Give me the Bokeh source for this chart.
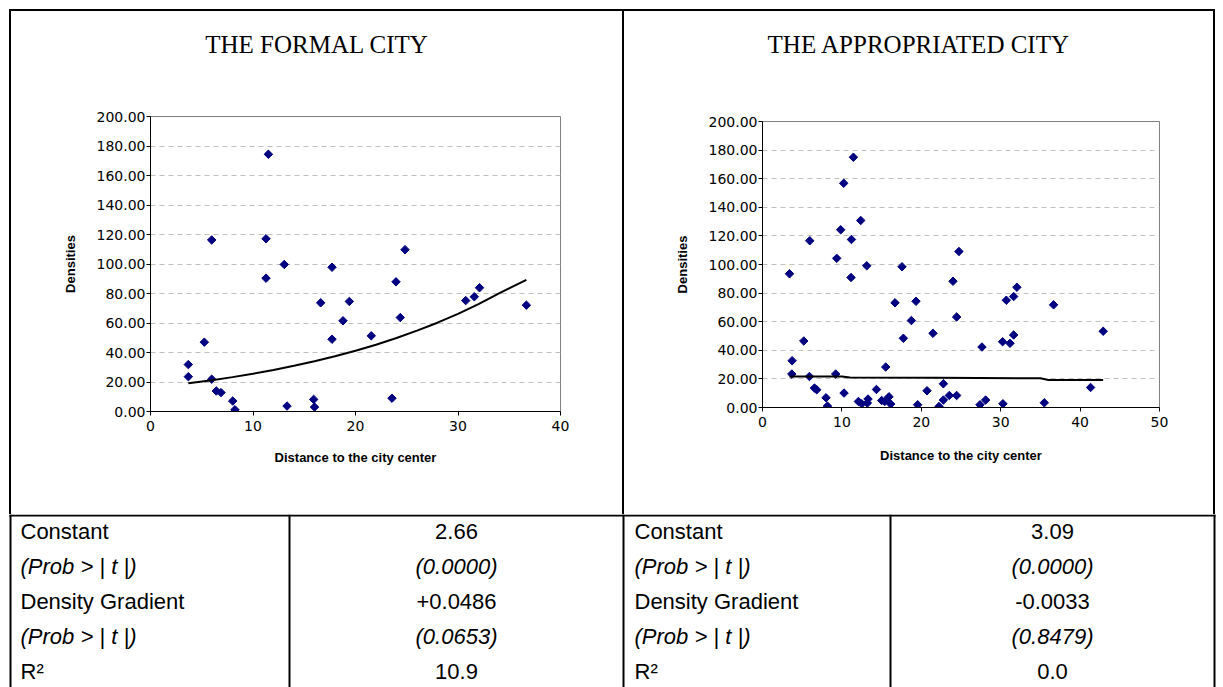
import math
from bokeh.plotting import figure
from bokeh.layouts import column, row
from bokeh.models import Div, Range1d, FixedTicker, NumeralTickFormatter, ColumnDataSource
from bokeh.core.properties import value
from bokeh.embed import file_html
from bokeh.resources import INLINE

# ---------------- data ----------------
formal_distance = [3.69, 3.69, 5.25, 5.97, 5.97, 6.42, 6.88, 8.02, 8.24, 11.27,
                   11.50, 11.27, 13.05, 13.32, 15.92, 16.00, 16.60, 17.71, 17.71, 18.78,
                   19.40, 21.54, 23.56, 23.95, 24.37, 24.83, 30.75, 31.59, 32.10, 36.67]
formal_density = [31.8, 23.6, 47.0, 116.3, 21.9, 13.9, 12.8, 7.1, 1.2, 117.1,
                  174.4, 90.4, 99.7, 3.7, 8.2, 3.0, 73.7, 97.8, 49.0, 61.5,
                  74.6, 51.3, 9.0, 87.9, 63.7, 109.7, 75.2, 77.8, 83.9, 72.1]
formal_trend_distance = [3.69, 6, 8, 10, 12, 14, 16, 18, 20, 22, 24, 26, 28, 30, 32, 34, 36.67]
formal_trend_density = [19.1, 21.2, 23.3, 25.6, 28.2, 31.0, 34.1, 37.5, 41.2, 45.3,
                        49.8, 54.8, 60.2, 66.2, 72.8, 80.1, 89.3]

appr_distance = [3.40, 3.73, 3.69, 5.20, 5.95, 5.91, 6.54, 6.83, 8.00, 8.18,
                 9.22, 9.35, 9.85, 10.23, 10.27, 11.15, 11.20, 11.45, 12.08, 12.37,
                 12.50, 13.13, 13.21, 13.29, 14.35, 15.01, 15.39, 15.52, 15.93, 16.15,
                 16.69, 17.57, 17.74, 18.75, 19.33, 19.54, 20.72, 21.47, 22.23, 22.78,
                 22.78, 23.53, 23.99, 24.45, 24.45, 24.74, 27.39, 27.64, 28.10, 30.24,
                 30.28, 30.71, 31.17, 31.63, 31.63, 32.04, 35.49, 36.66, 41.32, 42.91]
appr_density = [93.5, 32.7, 23.4, 46.5, 116.6, 21.7, 13.6, 12.4, 6.8, 1.0,
                23.4, 104.3, 124.3, 156.8, 10.1, 90.9, 117.5, 175.0, 4.2, 130.8,
                2.6, 99.1, 3.1, 5.9, 12.6, 4.9, 4.2, 28.3, 7.5, 2.4,
                73.2, 98.4, 48.4, 60.8, 74.3, 1.9, 11.7, 51.9, 0.7, 16.6,
                5.2, 8.4, 88.3, 63.3, 8.4, 109.1, 1.9, 42.3, 5.2, 46.0,
                2.6, 75.0, 44.9, 77.6, 50.7, 84.1, 3.3, 71.8, 14.0, 53.3]
appr_trend_distance = [3.4, 10.0, 11.0, 22.0, 35.0, 36.0, 42.9]
appr_trend_density = [21.7, 21.6, 20.9, 20.8, 20.4, 19.3, 19.2]

formal_x_ticks = [0, 10, 20, 30, 40]
appr_x_ticks = [0, 10, 20, 30, 40, 50]
y_ticks = [0, 20, 40, 60, 80, 100, 120, 140, 160, 180, 200]
grid_ticks = [20, 40, 60, 80, 100, 120, 140, 160, 180]

titles = ["THE FORMAL CITY", "THE APPROPRIATED CITY"]
x_label = "Distance to the city center"
y_label = "Densities"

row_labels = ["Constant", "(Prob > | t |)", "Density Gradient", "(Prob > | t |)", "R\u00b2"]
row_styles = ["normal", "italic", "normal", "italic", "normal"]
formal_values = ["2.66", "(0.0000)", "+0.0486", "(0.0653)", "10.9"]
appr_values = ["3.09", "(0.0000)", "-0.0033", "(0.8479)", "0.0"]

SANS = "Liberation Sans"
SERIF = "Liberation Serif"
TICK_FONT = "DejaVu Sans"
MARKER = "#000080"

TITLE_H = 70


def blank(w, h):
    return Div(width=w, height=h, margin=(0, 0, 0, 0))


def black(w, h):
    return Div(width=w, height=h, margin=(0, 0, 0, 0),
               styles={"background-color": "black"})


def title_fig(w, mb_left, mb_right, text):
    # same side borders as the chart below it, so the frames line up explicitly
    frame_w = w - mb_left - mb_right
    p = figure(width=w, height=TITLE_H, x_range=Range1d(0, frame_w),
               y_range=Range1d(TITLE_H, 0), output_backend="svg", toolbar_location=None,
               min_border_left=mb_left, min_border_right=mb_right,
               min_border_top=0, min_border_bottom=0,
               x_axis_location=None, y_axis_location=None)
    p.grid.visible = False
    p.outline_line_color = None
    p.text(x=[w / 2 - mb_left], y=[33], text=[text], text_font=value(SERIF),
           text_font_size="25px", text_align="center", text_baseline="middle",
           text_color="black")
    return p


def scatter_fig(w, h, xmax, xticks, xs, ys, txs, tys, mb, label_standoff):
    p = figure(width=w, height=h, x_range=Range1d(0, xmax), y_range=Range1d(0, 200),
               output_backend="svg", toolbar_location=None,
               min_border_left=mb[0], min_border_right=mb[1],
               min_border_top=mb[2], min_border_bottom=mb[3])
    p.background_fill_color = "white"
    p.border_fill_color = "white"
    p.outline_line_color = "#808080"
    p.outline_line_width = 1
    p.xgrid.visible = False
    p.ygrid.ticker = FixedTicker(ticks=grid_ticks)
    p.ygrid.grid_line_color = "#c0c0c0"
    p.ygrid.grid_line_dash = "5 4"
    p.xaxis.ticker = FixedTicker(ticks=xticks)
    p.yaxis.ticker = FixedTicker(ticks=y_ticks)
    p.yaxis.formatter = NumeralTickFormatter(format="0.00")
    for ax in p.axis:
        ax.axis_line_color = "black"
        ax.axis_line_width = 1
        ax.major_tick_line_color = "black"
        ax.minor_tick_line_color = None
        ax.major_tick_in = 0
        ax.major_tick_out = 4
        ax.major_label_text_font = TICK_FONT
        ax.major_label_text_font_size = "14px"
        ax.major_label_text_color = "black"
        ax.axis_label_text_font = SANS
        ax.axis_label_text_font_style = "bold"
        ax.axis_label_text_font_size = "13px"
        ax.axis_label_text_color = "black"
    p.xaxis.axis_label = x_label
    p.yaxis.axis_label = y_label
    p.xaxis.major_label_standoff = 5
    p.yaxis.major_label_standoff = 1
    p.xaxis.axis_label_standoff = label_standoff
    p.yaxis.axis_label_standoff = 16
    p.scatter(xs, ys, marker="square", angle=math.pi / 4, size=6,
              fill_color=MARKER, line_color=MARKER)
    p.line(txs, tys, line_color="black", line_width=2)
    return p


L_MB = (139, 62, 35, 103)
R_MB = (138, 54, 40, 107)
left_scatter = scatter_fig(611, 433, 40, formal_x_ticks, formal_distance, formal_density,
                           formal_trend_distance, formal_trend_density, L_MB, 16)
right_scatter = scatter_fig(589, 433, 50, appr_x_ticks, appr_distance, appr_density,
                            appr_trend_distance, appr_trend_density, R_MB, 18)

left_panel = column(title_fig(611, L_MB[0], L_MB[1], titles[0]), left_scatter)
right_panel = column(title_fig(589, R_MB[0], R_MB[1], titles[1]), right_scatter)

# ---------------- table ----------------
t = figure(width=1223, height=173, x_range=Range1d(0, 1223), y_range=Range1d(687, 514),
           output_backend="svg", toolbar_location=None, min_border=0,
           x_axis_location=None, y_axis_location=None)
t.grid.visible = False
t.outline_line_color = None
t.background_fill_color = "white"
t.segment(x0=[9, 10, 289, 623, 890, 1214], y0=[515, 514, 514, 514, 514, 514],
          x1=[1215, 10, 289, 623, 890, 1214], y1=[515, 687, 687, 687, 687, 687],
          line_color="black", line_width=2)

row_y = [531 + 35 * i for i in range(len(row_labels))]
src = ColumnDataSource(dict(
    lx=[20] * 5, rx=[634] * 5, vlx=[456] * 5, vrx=[1052] * 5, y=row_y,
    label=row_labels, fval=formal_values, aval=appr_values, style=row_styles))
common = dict(y="y", text_font=value(SANS), text_font_size="22px",
              text_font_style="style", text_baseline="middle", text_color="black", source=src)
t.text(x="lx", text="label", text_align="left", **common)
t.text(x="rx", text="label", text_align="left", **common)
t.text(x="vlx", text="fval", text_align="center", **common)
t.text(x="vrx", text="aval", text_align="center", **common)

layout = column(
    blank(1223, 9),
    row(blank(9, 2), black(1206, 2)),
    row(blank(9, 503), black(2, 503), left_panel, black(2, 503), right_panel, black(2, 503)),
    t,
)

open("out.html", "w").write(file_html(layout, INLINE))
